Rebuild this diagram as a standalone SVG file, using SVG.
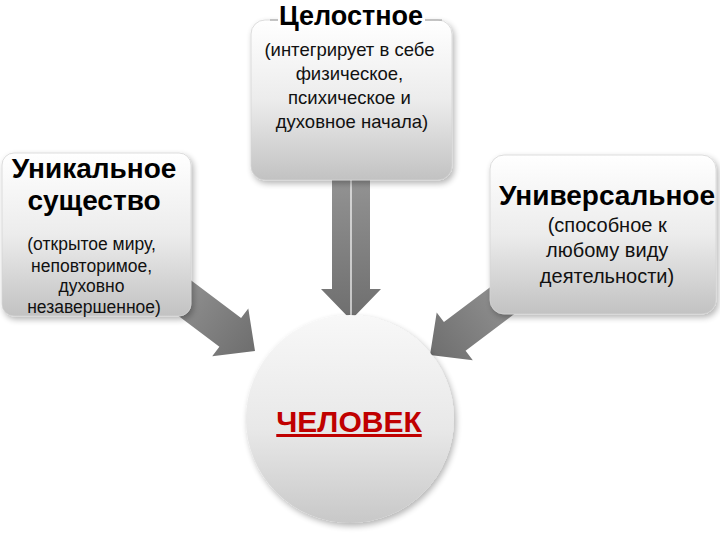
<svg xmlns="http://www.w3.org/2000/svg" width="720" height="540" viewBox="0 0 720 540">
<defs>
  <linearGradient id="boxGrad" x1="0" y1="0" x2="0" y2="1">
    <stop offset="0" stop-color="#ffffff"/>
    <stop offset="0.5" stop-color="#ececec"/>
    <stop offset="1" stop-color="#c2c2c2"/>
  </linearGradient>
  <linearGradient id="circGrad" x1="0" y1="0" x2="0" y2="1">
    <stop offset="0" stop-color="#f8f8f8"/>
    <stop offset="0.55" stop-color="#e8e8e8"/>
    <stop offset="1" stop-color="#c8c8c8"/>
  </linearGradient>
  <linearGradient id="arrowGrad" x1="0" y1="0" x2="1" y2="0">
    <stop offset="0" stop-color="#959595"/>
    <stop offset="1" stop-color="#6e6e6e"/>
  </linearGradient>
  <filter id="shadow" x="-20%" y="-20%" width="140%" height="140%">
    <feGaussianBlur in="SourceAlpha" stdDeviation="3"/>
    <feOffset dx="2" dy="3" result="b"/>
    <feComponentTransfer><feFuncA type="linear" slope="0.3"/></feComponentTransfer>
    <feMerge><feMergeNode/><feMergeNode in="SourceGraphic"/></feMerge>
  </filter>
  <path id="arrowShort" d="M0,0 L-31,-30 L-31,-18 L-110,-18 L-110,18 L-31,18 L-31,30 Z"/>
</defs>
<style>
  .box { fill: url(#boxGrad); stroke: #d4d4d4; stroke-width: 0.8; filter: url(#shadow); }
  .arrow { fill: url(#arrowGrad); }
  .title { font-family: "Liberation Sans", Arial, sans-serif; font-weight: bold; fill: #000; text-anchor: middle; }
  .body { font-family: "Liberation Sans", Arial, sans-serif; fill: #111; text-anchor: middle; }
</style>
<rect width="720" height="540" fill="#ffffff"/>

<g id="connectors">
  <g id="arrow-top">
    <path class="arrow" d="M0,0 L-31,-30 L-31,-19 L-150,-19 L-150,19 L-31,19 L-31,30 Z" transform="translate(351,320) rotate(90)"/>
    <line x1="351" y1="180" x2="351" y2="318" stroke="#ffffff" stroke-width="1.5" stroke-opacity="0.8"/>
  </g>
  <use id="arrow-left" class="arrow" href="#arrowShort" transform="translate(255,351) rotate(37)"/>
  <use id="arrow-right" class="arrow" href="#arrowShort" transform="translate(430,355) rotate(143)"/>
</g>

<g id="node-top">
  <rect class="box" x="251" y="20" width="201" height="160" rx="14"/>
  <line x1="270" y1="20" x2="442" y2="20" stroke="#9a9a9a" stroke-width="1"/>
  <rect x="278" y="4" width="147" height="24" fill="#ffffff"/>
  <text class="title" x="351" y="25" font-size="27">Целостное</text>
  <text class="body" font-size="18.5">
    <tspan x="352" y="56">(интегрирует в себе</tspan>
    <tspan x="352" y="80">физическое,</tspan>
    <tspan x="352" y="104">психическое и</tspan>
    <tspan x="352" y="128">духовное начала)</tspan>
  </text>
</g>

<g id="node-left">
  <rect class="box" x="2" y="153" width="189" height="163" rx="12"/>
  <text class="title" x="94" y="178" font-size="28">Уникальное</text>
  <text class="title" x="94" y="210" font-size="28">существо</text>
  <text class="body" font-size="17.5">
    <tspan x="94" y="250">(открытое миру,</tspan>
    <tspan x="94" y="272">неповторимое,</tspan>
    <tspan x="94" y="292">духовно</tspan>
    <tspan x="94" y="313">незавершенное)</tspan>
  </text>
</g>

<g id="node-right">
  <rect class="box" x="490" y="155" width="226" height="159" rx="14"/>
  <text class="title" x="607" y="205" font-size="28">Универсальное</text>
  <text class="body" font-size="20">
    <tspan x="610" y="232">(способное к</tspan>
    <tspan x="610" y="257">любому виду</tspan>
    <tspan x="607" y="283">деятельности)</tspan>
  </text>
</g>

<g id="node-center">
  <circle cx="350" cy="419" r="104" fill="url(#circGrad)" filter="url(#shadow)"/>
  <text x="349" y="432" font-family="Liberation Sans, Arial, sans-serif" font-weight="bold" font-size="30" fill="#c00000" text-anchor="middle" text-decoration="underline">ЧЕЛОВЕК</text>
</g>
</svg>
